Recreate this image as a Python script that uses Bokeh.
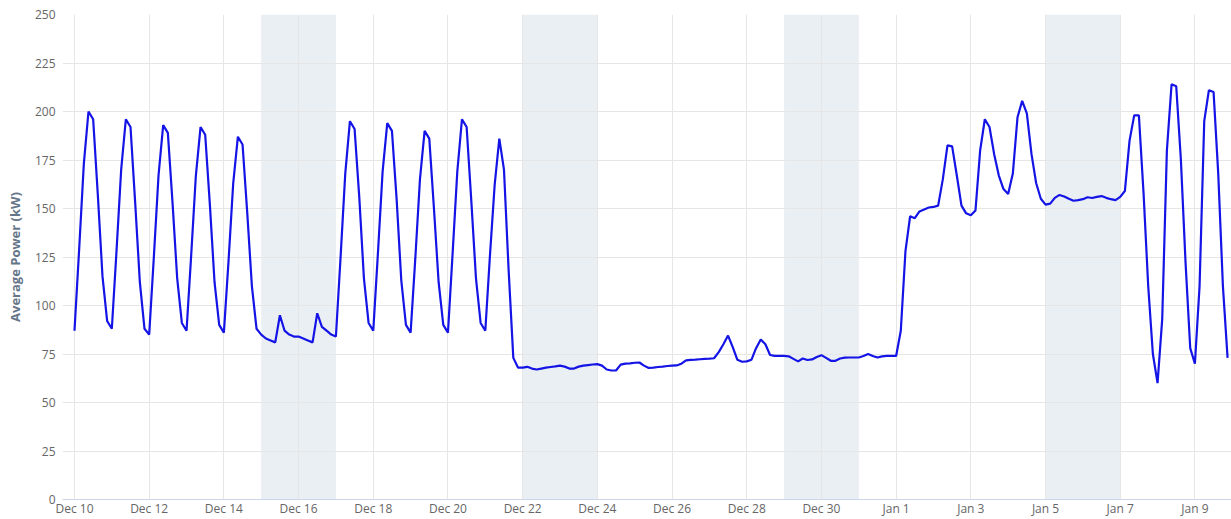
import numpy as np
import pandas as pd
from bokeh.plotting import figure
from bokeh.models import FixedTicker, Range1d
from bokeh.embed import file_html
from bokeh.resources import INLINE

# ---- data (3-hourly average power, kW) ----
start_date = "2018-12-10"
step_hours = 3

week_dec10 = [
    87, 129, 173, 200, 196, 157, 115, 92,      # Dec 10
    88, 128, 170, 196, 192, 153, 112, 88,      # Dec 11
    85, 125, 167, 193, 189, 153, 114, 91,      # Dec 12
    87, 126, 167, 192, 188, 152, 112, 90,      # Dec 13
    86, 123, 163, 187, 183, 148, 110, 88,      # Dec 14
    85, 83, 82, 81, 95, 87, 85, 84,            # Dec 15
    84, 83, 82, 81, 96, 89, 87, 85,            # Dec 16
]
week_dec17 = [
    84, 125, 168, 195, 191, 156, 114, 91,      # Dec 17
    87, 127, 169, 194, 190, 155, 113, 90,      # Dec 18
    86, 124, 165, 190, 186, 150, 112, 90,      # Dec 19
    86, 127, 169, 196, 192, 154, 114, 91,      # Dec 20
    87, 126, 162, 186, 170, 118, 73, 68,       # Dec 21
    68, 68.4, 67.5, 67, 67.5, 68, 68.3, 68.6,  # Dec 22
    69, 68.5, 67.5, 67.5, 68.5, 69, 69.3, 69.6,  # Dec 23
]
week_dec24 = [
    69.8, 69, 67, 66.5, 66.5, 69.5, 70, 70.2,  # Dec 24
    70.5, 70.6, 69, 67.8, 68, 68.3, 68.5, 68.8,  # Dec 25
    69, 69.1, 70, 71.7, 72, 72.1, 72.3, 72.5,  # Dec 26
    72.6, 72.8, 76, 80, 84.5, 78.5, 72, 71,    # Dec 27
    71.2, 72, 78, 82.5, 80, 74.5, 74, 74,      # Dec 28
    74, 73.8, 72.5, 71.2, 72.7, 71.9, 72.2, 73.5,  # Dec 29
    74.4, 73, 71.5, 71.5, 72.7, 73.1, 73.2, 73.2,  # Dec 30
]
week_dec31 = [
    73.2, 74, 75, 74, 73.2, 73.8, 74, 74,      # Dec 31
    74, 87, 128, 146, 145, 148.5, 149.5, 150.5,  # Jan 1
    150.8, 151.5, 165, 182.5, 182, 167, 151.5, 147.5,  # Jan 2
    146.5, 149, 180, 196, 192, 178, 167, 160,  # Jan 3
    157.5, 168, 197, 205.5, 199, 178, 163, 155,  # Jan 4
    152, 152.5, 155.5, 157, 156.2, 155, 154, 154.3,  # Jan 5
    154.8, 155.8, 155.4, 156, 156.4, 155.5, 154.8, 154.3,  # Jan 6
]
week_jan7 = [
    156, 159, 185, 198, 198, 158, 110, 75,     # Jan 7
    60, 93, 180, 214, 213, 175, 122, 78,       # Jan 8
    70, 110, 195, 211, 210, 168, 110, 73,      # Jan 9
]

tick_dates = ["2018-12-10", "2018-12-12", "2018-12-14", "2018-12-16", "2018-12-18",
              "2018-12-20", "2018-12-22", "2018-12-24", "2018-12-26", "2018-12-28",
              "2018-12-30", "2019-01-01", "2019-01-03", "2019-01-05", "2019-01-07",
              "2019-01-09"]
weekend_starts = ["2018-12-15", "2018-12-22", "2018-12-29", "2019-01-05"]
weekend_ends = ["2018-12-17", "2018-12-24", "2018-12-31", "2019-01-07"]
y_ticks = [0, 25, 50, 75, 100, 125, 150, 175, 200, 225, 250]

# ---- derived ----
power = week_dec10 + week_dec17 + week_dec24 + week_dec31 + week_jan7
t0 = pd.Timestamp(start_date)
x_days = np.arange(len(power)) * step_hours / 24.0

def day_of(d):
    return (pd.Timestamp(d) - t0).days

tick_pos = [day_of(d) for d in tick_dates]
tick_labels = [f"{pd.Timestamp(d):%b} {pd.Timestamp(d).day}" for d in tick_dates]
band_left = [day_of(d) for d in weekend_starts]
band_right = [day_of(d) for d in weekend_ends]

FONT = "Open Sans"

p = figure(width=1231, height=519, output_backend="svg", toolbar_location=None,
           x_range=Range1d(-0.321, 30.98), y_range=Range1d(0, 250),
           min_border_left=62, min_border_right=0, min_border_top=14,
           min_border_bottom=18)
p.background_fill_color = "white"
p.border_fill_color = "white"
p.outline_line_color = None

bands = p.quad(left=band_left, right=band_right, bottom=0, top=250,
               fill_color="#eaeff4", line_color=None)
bands.level = "image"

p.line(x_days, power, line_color="#1414e6", line_width=2.2)

# x axis
p.xaxis.ticker = FixedTicker(ticks=tick_pos)
p.xaxis.major_label_overrides = {k: v for k, v in zip(tick_pos, tick_labels)}
p.xaxis.axis_line_color = "#ccd6eb"
p.xaxis.axis_line_width = 1
p.xaxis.major_tick_line_color = None
p.xaxis.minor_tick_line_color = None
p.xaxis.major_tick_out = 0
p.xaxis.major_label_standoff = 0
p.xaxis.major_label_text_font = FONT
p.xaxis.major_label_text_font_size = "12px"
p.xaxis.major_label_text_color = "#666666"
p.xgrid.ticker = FixedTicker(ticks=tick_pos)
p.xgrid.grid_line_color = "#e6e6e6"

# y axis
p.yaxis.ticker = FixedTicker(ticks=y_ticks)
p.yaxis.axis_line_color = None
p.yaxis.major_tick_line_color = None
p.yaxis.minor_tick_line_color = None
p.yaxis.major_tick_out = 0
p.yaxis.major_label_standoff = 7
p.yaxis.major_label_text_font = FONT
p.yaxis.major_label_text_font_size = "12px"
p.yaxis.major_label_text_color = "#666666"
p.yaxis.axis_label = "Average Power (kW)"
p.yaxis.axis_label_text_font = FONT
p.yaxis.axis_label_text_font_style = "bold"
p.yaxis.axis_label_text_font_size = "13px"
p.yaxis.axis_label_text_color = "#66768a"
p.yaxis.axis_label_standoff = 8
p.ygrid.grid_line_color = "#e6e6e6"

open("out.html", "w").write(file_html(p, INLINE))
